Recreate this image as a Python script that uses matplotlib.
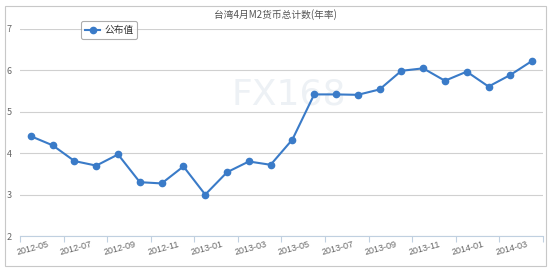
import matplotlib
matplotlib.use('Agg')
import matplotlib.pyplot as plt
from matplotlib.patches import Rectangle

plt.rcParams['font.family'] = ['Noto Sans CJK SC', 'DejaVu Sans']

months = ['2012-05', '2012-06', '2012-07', '2012-08', '2012-09', '2012-10',
          '2012-11', '2012-12', '2013-01', '2013-02', '2013-03', '2013-04',
          '2013-05', '2013-06', '2013-07', '2013-08', '2013-09', '2013-10',
          '2013-11', '2013-12', '2014-01', '2014-02', '2014-03', '2014-04']
values = [4.41, 4.19, 3.81, 3.70, 3.97, 3.30, 3.27, 3.68, 3.00, 3.54, 3.80, 3.72,
          4.33, 5.42, 5.42, 5.41, 5.54, 5.99, 6.05, 5.75, 5.97, 5.61, 5.89, 6.23]
yticks = [2, 3, 4, 5, 6, 7]

fig = plt.figure(figsize=(5.5, 2.71), dpi=100)
W, H = 550, 271

# outer chart frame
fig.patches.append(Rectangle((5 / W, 5 / H), 541 / W, 260 / H, transform=fig.transFigure,
                             fill=False, edgecolor='#c8c8c8', linewidth=0.8))

ax = fig.add_axes([20 / W, 1 - 236 / H, 523 / W, 207 / H])
x = list(range(len(months)))
ax.plot(x, values, color='#3a7bc8', linewidth=1.5, marker='o', markersize=4.5,
        label='公布值', zorder=3)

ax.set_xlim(-0.5, 23.5)
ax.set_ylim(2, 7)
ax.set_yticks(yticks)
ax.set_yticklabels([str(v) for v in yticks])
ax.yaxis.grid(True, color='#d0d0d0', linewidth=0.8)
ax.set_axisbelow(True)
for s in ['top', 'right', 'left']:
    ax.spines[s].set_visible(False)
ax.spines['bottom'].set_color('#c0d0e0')
ax.spines['bottom'].set_linewidth(0.8)
ax.tick_params(axis='y', length=0, labelsize=6.5, labelcolor='#666666', pad=6)

ax.set_xticks([i - 0.5 for i in range(0, 25, 2)])
ax.set_xticklabels([''] * 13)
ax.tick_params(axis='x', length=4, color='#c0d0e0', direction='out')
for i in range(0, 24, 2):
    ax.text(i + 0.75, 1.9, months[i], rotation=15, ha='right', va='top',
            fontsize=6.5, color='#666666', rotation_mode='anchor',
            family='Liberation Sans')

fig.text(275 / W, 1 - 15 / H, '台湾4月M2货币总计数(年率)', ha='center', va='center',
         fontsize=7, color='#555555')

ax.text(0.405, 0.685, 'FX168', transform=ax.transAxes, fontsize=26, color='#edf1f5',
        ha='left', va='center', family='DejaVu Sans', zorder=1)

leg = ax.legend(loc='upper left', bbox_to_anchor=(56 / 523, 1.06), fontsize=7,
                frameon=True, fancybox=True, handlelength=1.6, borderpad=0.4,
                handletextpad=0.4, labelcolor='#333333')
leg.get_frame().set_edgecolor('#999999')
leg.get_frame().set_linewidth(0.8)

fig.savefig('out.png', dpi=100)
